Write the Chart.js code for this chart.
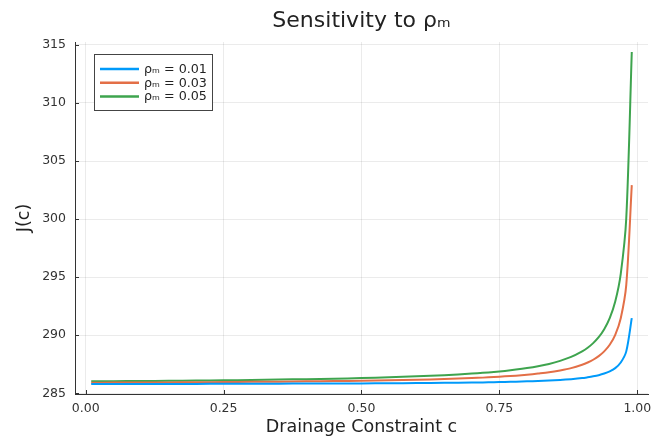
<!DOCTYPE html>
<html>
<head>
<meta charset="utf-8">
<script src="https://cdn.jsdelivr.net/npm/chart.js@4"></script>
<style>
  body { margin: 0; background: #fff; }
</style>
</head>
<body>
<canvas id="myChart" width="664" height="439"></canvas>
<script>
  const cValues = [0.01, 0.05, 0.10, 0.15, 0.20, 0.25, 0.30, 0.35, 0.40, 0.45, 0.50, 0.55, 0.60, 0.65, 0.70,
    0.72, 0.74, 0.76, 0.78, 0.80, 0.82, 0.84, 0.86, 0.88, 0.90, 0.91, 0.92, 0.93, 0.94, 0.95, 0.96, 0.97, 0.98, 0.99];

  const rho001 = [285.80, 285.80, 285.80, 285.81, 285.81, 285.82, 285.82, 285.83, 285.84, 285.84, 285.85, 285.87, 285.88, 285.90, 285.93,
    285.94, 285.96, 285.98, 286.00, 286.03, 286.06, 286.10, 286.15, 286.22, 286.31, 286.38, 286.46, 286.56, 286.70, 286.89, 287.17, 287.65, 288.61, 291.47];

  const rho003 = [285.91, 285.92, 285.93, 285.94, 285.95, 285.97, 285.99, 286.00, 286.03, 286.05, 286.08, 286.12, 286.17, 286.23, 286.31,
    286.35, 286.40, 286.46, 286.52, 286.60, 286.70, 286.81, 286.97, 287.17, 287.46, 287.65, 287.89, 288.20, 288.61, 289.18, 290.04, 291.47, 294.34, 302.93];

  const rho005 = [286.03, 286.04, 286.06, 286.08, 286.10, 286.12, 286.15, 286.18, 286.22, 286.26, 286.31, 286.38, 286.46, 286.56, 286.70,
    286.76, 286.84, 286.93, 287.04, 287.17, 287.33, 287.53, 287.79, 288.13, 288.61, 288.92, 289.32, 289.83, 290.52, 291.47, 292.90, 295.29, 300.07, 314.39];

  const seriesLabels = ['ρₘ = 0.01', 'ρₘ = 0.03', 'ρₘ = 0.05'];
  const xTicks = [0, 0.25, 0.5, 0.75, 1];
  const yTicks = [285, 290, 295, 300, 305, 310, 315];

  const toPoints = (ys) => ys.map((y, i) => ({ x: cValues[i], y: y }));

  const data = {
    datasets: [{
      label: seriesLabels[0],
      borderColor: '#009AFA',
      data: toPoints(rho001),
    }, {
      label: seriesLabels[1],
      borderColor: '#E36F47',
      data: toPoints(rho003),
    }, {
      label: seriesLabels[2],
      borderColor: '#3EA44E',
      data: toPoints(rho005),
    }]
  };

  // title, inward ticks and boxed legend like the GR backend
  const extras = {
    id: 'extras',
    afterDraw(chart) {
      const ctx = chart.ctx;
      const area = chart.chartArea;
      const xs = chart.scales.x, ys = chart.scales.y;
      ctx.save();

      ctx.fillStyle = '#222';
      ctx.font = '22px "DejaVu Sans"';
      ctx.textAlign = 'center';
      ctx.textBaseline = 'middle';
      ctx.fillText('Sensitivity to ρₘ', (area.left + area.right) / 2, 21);

      ctx.strokeStyle = '#333';
      ctx.lineWidth = 1;
      ctx.beginPath();
      xTicks.forEach(v => {
        const px = Math.round(xs.getPixelForValue(v)) + 0.5;
        ctx.moveTo(px, area.bottom);
        ctx.lineTo(px, area.bottom - 4);
      });
      yTicks.forEach(v => {
        const py = Math.round(ys.getPixelForValue(v)) + 0.5;
        ctx.moveTo(area.left, py);
        ctx.lineTo(area.left + 4, py);
      });
      ctx.stroke();

      // legend box
      const bx = 94.5, by = 54.5, bw = 118, bh = 56;
      ctx.fillStyle = '#fff';
      ctx.fillRect(bx, by, bw, bh);
      ctx.strokeStyle = '#444';
      ctx.strokeRect(bx, by, bw, bh);
      ctx.font = '12.7px "DejaVu Sans"';
      ctx.textAlign = 'left';
      chart.data.datasets.forEach((ds, i) => {
        const y = 69 + i * 13.8;
        ctx.strokeStyle = ds.borderColor;
        ctx.lineWidth = 2.5;
        ctx.beginPath();
        ctx.moveTo(100, y);
        ctx.lineTo(139, y);
        ctx.stroke();
        ctx.fillStyle = '#222';
        ctx.fillText(ds.label, 144, y + 0.5);
      });
      ctx.restore();
    }
  };

  const config = {
    type: 'line',
    data: data,
    options: {
      responsive: false,
      animation: false,
      layout: { padding: { top: 42, right: 16, left: 0, bottom: 0 } },
      elements: {
        point: { radius: 0 },
        line: { borderWidth: 2, tension: 0.3, fill: false }
      },
      plugins: {
        legend: { display: false },
        tooltip: { enabled: false }
      },
      scales: {
        x: {
          type: 'linear',
          min: -0.0194,
          max: 1.0194,
          afterBuildTicks: (scale) => { scale.ticks = xTicks.map(v => ({ value: v })); },
          afterFit: (scale) => { scale.height = 45; },
          ticks: {
            color: '#333',
            font: { family: 'DejaVu Sans', size: 12.5 },
            padding: 7,
            maxRotation: 0,
            callback: (v) => v.toFixed(2)
          },
          grid: { color: 'rgba(0,0,0,0.08)', drawTicks: false },
          border: { display: true, color: '#333', width: 1 },
          title: {
            display: true,
            text: 'Drainage Constraint c',
            color: '#222',
            font: { family: 'DejaVu Sans', size: 17.5 },
            padding: { top: 0, bottom: 1.5 }
          }
        },
        y: {
          min: 284.94,
          max: 315.25,
          afterBuildTicks: (scale) => { scale.ticks = yTicks.map(v => ({ value: v })); },
          afterFit: (scale) => { scale.width = 75; },
          ticks: {
            color: '#333',
            font: { family: 'DejaVu Sans', size: 12.5 },
            padding: 9
          },
          grid: { color: 'rgba(0,0,0,0.08)', drawTicks: false },
          border: { display: true, color: '#333', width: 1 },
          title: {
            display: true,
            text: 'J(c)',
            color: '#222',
            font: { family: 'DejaVu Sans', size: 17.5 },
            padding: { top: 13.5, bottom: 0 }
          }
        }
      }
    },
    plugins: [extras]
  };

  const myChart = new Chart(
    document.getElementById('myChart'),
    config
  );
</script>
</body>
</html>
